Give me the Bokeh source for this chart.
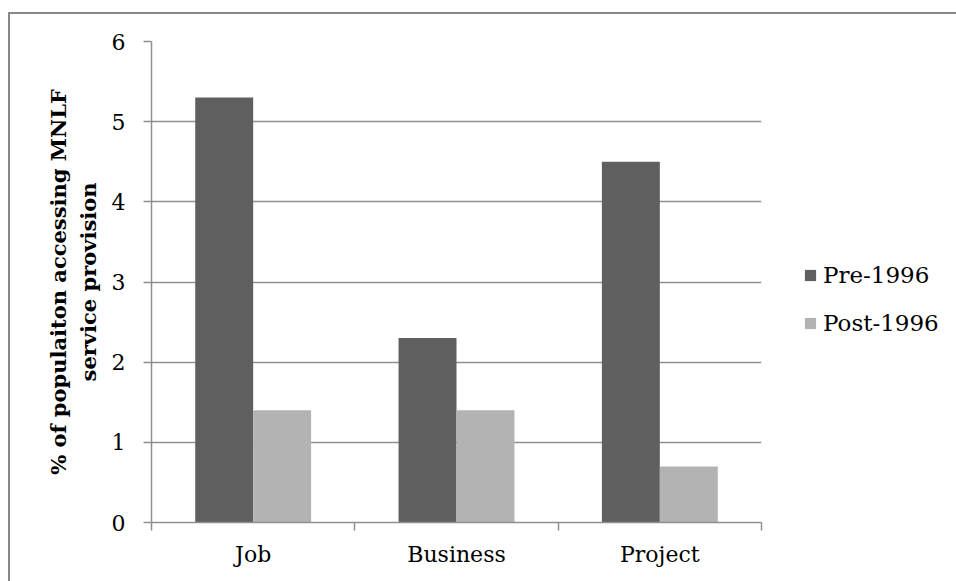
from bokeh.plotting import figure
from bokeh.models import FixedTicker, Legend, LegendItem, ColumnDataSource
from bokeh.embed import file_html
from bokeh.resources import INLINE

# Data
categories = ["Job", "Business", "Project"]
pre_1996 = [5.3, 2.3, 4.5]
post_1996 = [1.4, 1.4, 0.7]
series_names = ["Pre-1996", "Post-1996"]
y_ticks = [0, 1, 2, 3, 4, 5, 6]

PRE_COLOR = "#5f5f5f"
POST_COLOR = "#b3b3b3"
GRID = "#8f8f8f"
FONT = "DejaVu Serif"

bar_w = 0.285
centers = [i + 0.5 for i in range(len(categories))]

p = figure(
    frame_width=610, frame_height=481,
    x_range=(0, len(categories)), y_range=(0, 6),
    output_backend="svg", toolbar_location=None,
    min_border_left=141, min_border_top=27, min_border_right=190, min_border_bottom=59,
    background_fill_color="white", border_fill_color="white",
)
p.styles = {
    "margin-left": "8px",
    "margin-top": "12px",
    "border-left": "2px solid #888888",
    "border-top": "2px solid #888888",
}
p.outline_line_color = None

src_pre = ColumnDataSource(dict(x=[c - bar_w / 2 for c in centers], top=pre_1996))
src_post = ColumnDataSource(dict(x=[c + bar_w / 2 for c in centers], top=post_1996))
r_pre = p.vbar(x="x", top="top", width=bar_w, bottom=0, source=src_pre,
               fill_color=PRE_COLOR, line_color=None)
r_post = p.vbar(x="x", top="top", width=bar_w, bottom=0, source=src_post,
                fill_color=POST_COLOR, line_color=None)

# x axis: labels at category centres, tick marks between categories
xt = FixedTicker(ticks=centers, minor_ticks=list(range(len(categories) + 1)))
p.xaxis.ticker = xt
p.xaxis.major_label_overrides = {c: name for c, name in zip(centers, categories)}
p.xaxis.major_tick_out = 0
p.xaxis.major_tick_in = 0
p.xaxis.minor_tick_out = 8
p.xaxis.minor_tick_in = 0
p.xaxis.minor_tick_line_color = GRID
p.xaxis.minor_tick_line_width = 1.5
p.xaxis.major_label_standoff = 11
p.xgrid.visible = False

# y axis
p.yaxis.ticker = FixedTicker(ticks=y_ticks)
p.yaxis.major_tick_out = 8
p.yaxis.major_tick_in = 0
p.yaxis.minor_tick_line_color = None
p.yaxis.major_tick_line_color = GRID
p.yaxis.major_tick_line_width = 1.5
p.yaxis.major_label_standoff = 18
p.yaxis.axis_label = "% of populaiton accessing MNLF\nservice provision"
p.yaxis.axis_label_text_font = FONT
p.yaxis.axis_label_text_font_style = "bold"
p.yaxis.axis_label_text_font_size = "21px"
p.yaxis.axis_label_text_color = "black"
p.yaxis.axis_label_standoff = 8
p.ygrid.grid_line_color = GRID
p.ygrid.grid_line_width = 1.5

for ax in (p.xaxis, p.yaxis):
    ax.axis_line_color = GRID
    ax.axis_line_width = 1.5
    ax.major_label_text_font = FONT
    ax.major_label_text_font_size = "22px"
    ax.major_label_text_color = "black"

legend = Legend(
    items=[LegendItem(label=series_names[0], renderers=[r_pre]),
           LegendItem(label=series_names[1], renderers=[r_post])],
    location=(42, 186),
    orientation="vertical",
    glyph_width=14, glyph_height=14,
    label_standoff=6, label_height=22, spacing=22,
    label_text_font=FONT, label_text_font_size="23px", label_text_color="black",
    padding=0, margin=0,
    border_line_color=None, background_fill_alpha=0,
)
p.add_layout(legend, "right")

open("out.html", "w").write(file_html(p, INLINE))
